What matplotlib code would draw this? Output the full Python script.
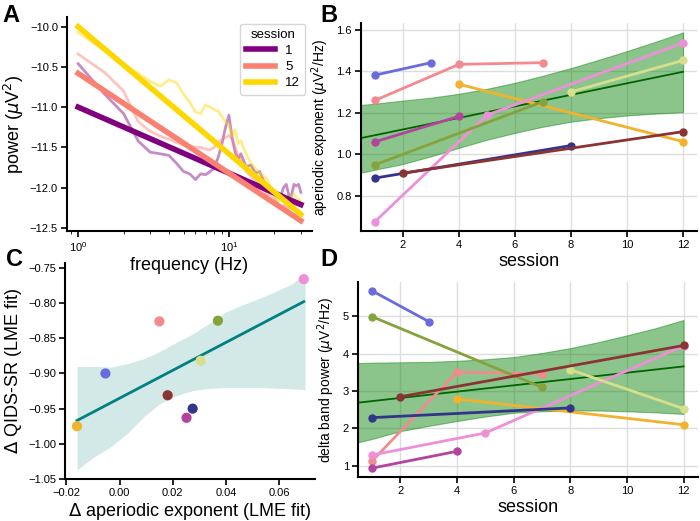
import numpy as np
import matplotlib
matplotlib.use('Agg')
import matplotlib.pyplot as plt

plt.rcParams['font.family'] = ['Liberation Sans', 'DejaVu Sans']
plt.rcParams['axes.linewidth'] = 1.5
plt.rcParams['xtick.major.width'] = 1.2
plt.rcParams['ytick.major.width'] = 1.2

# ---------------- panel A : spectra + aperiodic fits
freq = [1, 1.5, 2, 2.5, 3, 3.5, 4, 4.5, 5, 5.5, 6, 6.5, 7, 7.5, 8, 8.5, 9, 9.5, 10, 10.5,
        11, 11.5, 12, 13, 14, 15, 16, 17, 18, 19, 20, 21, 22, 23, 24, 25, 26, 27, 28, 29, 30]
spec_s1 = [-10.46, -10.84, -11.08, -11.42, -11.56, -11.58, -11.60, -11.70, -11.80, -11.83, -11.90,
           -11.83, -11.84, -11.80, -11.76, -11.62, -11.45, -11.25, -11.10, -11.38, -11.56, -11.65,
           -11.58, -11.74, -11.72, -11.82, -11.80, -11.92, -11.98, -12.02, -12.08, -12.12, -12.12,
           -12.00, -11.96, -12.10, -12.10, -11.96, -11.98, -11.96, -12.06]
spec_s5 = [-10.34, -10.57, -10.80, -11.18, -11.30, -11.36, -11.40, -11.44, -11.47, -11.48, -11.50,
           -11.50, -11.52, -11.53, -11.50, -11.44, -11.40, -11.38, -11.35, -11.40, -11.50, -11.60,
           -11.66, -11.80, -11.86, -11.92, -11.98, -12.04, -12.08, -12.10, -12.12, -12.20, -12.26,
           -12.22, -12.24, -12.26, -12.24, -12.22, -12.20, -12.22, -12.20]
spec_s12 = [-10.07, -10.30, -10.47, -10.58, -10.68, -10.74, -10.66, -10.70, -10.84, -10.94, -11.06,
            -11.08, -10.97, -11.00, -11.03, -11.05, -11.12, -11.18, -11.22, -11.36, -11.28, -11.45,
            -11.42, -11.58, -11.70, -11.76, -11.82, -11.86, -11.90, -12.02, -12.08, -12.18, -12.14,
            -12.12, -12.16, -12.14, -12.10, -12.08, -12.12, -12.14, -12.18]
sessions_A = ['1', '5', '12']
colors_A = ['#800080', '#FA8072', '#FFD700']
fit_offset = [-11.0, -10.58, -10.0]
fit_exponent = [0.82, 1.24, 1.58]

# ---------------- subjects (panels B, C, D)
subj_colors = ['#6b6be0', '#f4898f', '#f2b22e', '#ee90d8', '#d6e08c',
               '#b2439e', '#86a23c', '#34358a', '#8b3434']
subj_sessions = [[1, 3], [1, 4, 7], [4, 12], [1, 5, 12], [8, 12],
                 [1, 4], [1, 7], [1, 8], [2, 12]]
subj_exponent = [[1.382, 1.442], [1.260, 1.434, 1.442], [1.338, 1.061], [0.675, 1.189, 1.537],
                 [1.301, 1.453], [1.060, 1.183], [0.949, 1.254], [0.885, 1.042], [0.909, 1.109]]
subj_delta = [[5.68, 4.86], [1.13, 3.51, 3.46], [2.79, 2.10], [1.29, 1.88, 4.21],
              [3.57, 2.53], [0.94, 1.39], [4.99, 3.10], [2.29, 2.55], [2.85, 4.22]]

lme_x = [0.5, 1, 2, 3, 4, 5, 6, 7, 8, 9, 10, 11, 12]
exp_fit_end = [1.078, 1.398]
exp_hi = [1.238, 1.244, 1.259, 1.273, 1.292, 1.316, 1.345, 1.379, 1.416, 1.456, 1.498, 1.542, 1.588]
exp_lo = [0.911, 0.925, 0.953, 0.990, 1.031, 1.070, 1.103, 1.133, 1.157, 1.174, 1.187, 1.196, 1.203]
delta_fit_end = [2.69, 3.66]
delta_hi = [3.75, 3.76, 3.77, 3.78, 3.81, 3.85, 3.91, 4.02, 4.15, 4.31, 4.49, 4.68, 4.90]
delta_lo = [1.63, 1.72, 1.93, 2.07, 2.20, 2.32, 2.42, 2.46, 2.48, 2.48, 2.46, 2.43, 2.39]

# panel C : per-subject slopes
d_exponent = [-0.0053, 0.015, -0.016, 0.0693, 0.0305, 0.0252, 0.037, 0.0275, 0.0181]
d_qids = [-0.900, -0.826, -0.975, -0.766, -0.882, -0.963, -0.825, -0.950, -0.931]
ci_x = [-0.016, -0.0094, -0.0032, 0.003, 0.0092, 0.0155, 0.0217, 0.0279, 0.0341, 0.0403,
        0.0466, 0.0528, 0.059, 0.0652, 0.0698]
ci_hi = [-0.890, -0.890, -0.891, -0.886, -0.879, -0.868, -0.855, -0.843, -0.828, -0.812,
         -0.802, -0.793, -0.783, -0.772, -0.757]
ci_lo = [-1.037, -1.018, -1.004, -0.985, -0.961, -0.942, -0.931, -0.924, -0.921, -0.920,
         -0.920, -0.920, -0.921, -0.922, -0.923]

fig = plt.figure(figsize=(7, 5.21), dpi=100)
axA = fig.add_axes([0.0957, 0.5566, 0.35, 0.4107])
axB = fig.add_axes([0.5157, 0.5566, 0.48, 0.3993])
axC = fig.add_axes([0.0929, 0.0806, 0.357, 0.4146])
axD = fig.add_axes([0.5114, 0.0845, 0.4853, 0.3742])

for ax in [axA, axB, axC, axD]:
    ax.spines['top'].set_visible(False)
    ax.spines['right'].set_visible(False)
    ax.patch.set_alpha(0)  # so labels of the upper row are not hidden
    ax.tick_params(labelsize=8, length=4, pad=2.5)

# ---- A
f = np.array(freq)
for spec, col in zip([spec_s1, spec_s5, spec_s12], colors_A):
    axA.plot(f, spec, color=col, lw=2, alpha=0.45)
for lab, col, off, ex in zip(sessions_A, colors_A, fit_offset, fit_exponent):
    axA.plot(f, off - ex * np.log10(f), color=col, lw=4, label=lab)
axA.set_xscale('log')
axA.set_ylim(-12.54, -9.88)
axA.set_yticks([-10.0, -10.5, -11.0, -11.5, -12.0, -12.5])
axA.set_xlabel('frequency (Hz)', fontsize=13, labelpad=2)
axA.set_ylabel(r'power ($\mu$V$^2$)', fontsize=13, labelpad=3)
leg = axA.legend(title='session', loc='upper right', fontsize=9.5, title_fontsize=9.5,
                 handlelength=2.2, labelspacing=0.3, borderaxespad=0.5)

# ---- B and D
for ax, vals, fit_end, hi, lo, ylab in [
        (axB, subj_exponent, exp_fit_end, exp_hi, exp_lo, r'aperiodic exponent ($\mu$V$^2$/Hz)'),
        (axD, subj_delta, delta_fit_end, delta_hi, delta_lo, r'delta band power ($\mu$V$^2$/Hz)')]:
    ax.grid(True, color='#dddddd', lw=1)
    ax.set_axisbelow(True)
    ax.fill_between(lme_x, lo, hi, color='green', alpha=0.45, lw=0.8)
    ax.plot([lme_x[0], lme_x[-1]], fit_end, color='#006400', lw=1.3)
    for ses, v, col in zip(subj_sessions, vals, subj_colors):
        ax.plot(ses, v, color=col, lw=2, marker='o', ms=5)
    ax.set_xlim(0.5, 12.5)
    ax.set_xticks([2, 4, 6, 8, 10, 12])
    ax.set_xlabel('session', fontsize=13, labelpad=2)
    ax.set_ylabel(ylab, fontsize=10, labelpad=4)
axB.set_yticks([0.8, 1.0, 1.2, 1.4, 1.6])
axD.set_yticks([1, 2, 3, 4, 5])

# ---- C
axC.fill_between(ci_x, ci_lo, ci_hi, color='#d2e9e7', lw=0)
slope, icpt = np.polyfit(d_exponent, d_qids, 1)
xl = np.array([min(d_exponent), max(d_exponent)])
axC.plot(xl, slope * xl + icpt, color='#008080', lw=2)
axC.scatter(d_exponent, d_qids, c=subj_colors, s=40, zorder=3)
axC.set_xlim(-0.0205, 0.0735)
axC.set_ylim(-1.05, -0.743)
axC.set_xticks([-0.02, 0.0, 0.02, 0.04, 0.06])
axC.set_yticks([-0.75, -0.80, -0.85, -0.90, -0.95, -1.00, -1.05])
axC.set_xlabel(r'$\Delta$ aperiodic exponent (LME fit)', fontsize=13, labelpad=2)
axC.set_ylabel(r'$\Delta$ QIDS-SR (LME fit)', fontsize=13, labelpad=3)

# panel letters
for lab, x, y in [('A', 0.003, 0.97), ('B', 0.457, 0.97), ('C', 0.008, 0.502), ('D', 0.457, 0.502)]:
    fig.text(x, y, lab, fontsize=17, fontweight='bold', va='center')

fig.savefig('out.png', dpi=100)
